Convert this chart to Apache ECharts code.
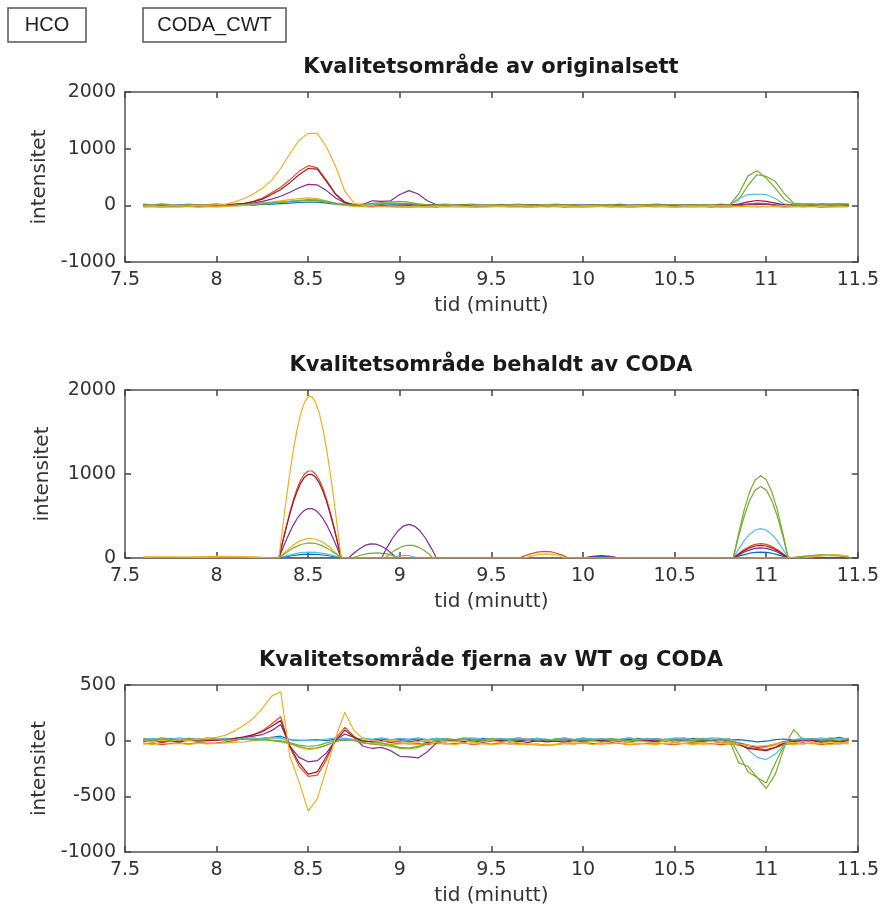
<!DOCTYPE html>
<html><head><meta charset="utf-8">
<script src="https://cdn.jsdelivr.net/npm/echarts/dist/echarts.min.js"></script>
<style>html,body{margin:0;padding:0;background:#fff}#c{width:882px;height:919px}</style>
</head><body><div id="c"></div>
<script>
// ---------- DATA ----------
const xTicks = [7.5, 8, 8.5, 9, 9.5, 10, 10.5, 11, 11.5];
const yTicks1 = [-1000, 0, 1000, 2000];
const yTicks2 = [0, 1000, 2000];
const yTicks3 = [-1000, -500, 0, 500];
const titles = ['Kvalitetsområde av originalsett', 'Kvalitetsområde behaldt av CODA', 'Kvalitetsområde fjerna av WT og CODA'];
const buttons = ['HCO', 'CODA_CWT'];

const tGrid = [7.60,7.65,7.70,7.75,7.80,7.85,7.90,7.95,8.00,8.05,
8.10,8.15,8.20,8.25,8.30,8.35,8.40,8.45,8.50,8.55,
8.60,8.65,8.70,8.75,8.80,8.85,8.90,8.95,9.00,9.05,
9.10,9.15,9.20,9.25,9.30,9.35,9.40,9.45,9.50,9.55,
9.60,9.65,9.70,9.75,9.80,9.85,9.90,9.95,10.00,10.05,
10.10,10.15,10.20,10.25,10.30,10.35,10.40,10.45,10.50,10.55,
10.60,10.65,10.70,10.75,10.80,10.85,10.90,10.95,11.00,11.05,
11.10,11.15,11.20,11.25,11.30,11.35,11.40,11.45];

// Plot 1: original set
const p1Blue = [0,5,-5,0,10,-5,5,0,-5,5, 0,10,5,15,20,30,40,50,55,55, 40,20,5,0,-5,5,0,10,20,25, 15,5,0,-5,5,0,-10,5,0,-5, 5,0,-5,10,0,-5,5,0,5,-5, 0,5,-5,0,10,-5,0,5,-5,0, 5,0,-5,5,0,10,20,30,25,10, 0,5,-5,0,5,-5,10,0];
const p1Orange = [-25,-20,-30,-20,-25,-15,-20,-10,-15,-5, 5,30,70,130,220,320,450,600,700,660, 440,200,60,10,-10,-20,-15,-25,-20,-30, -20,-25,-30,-15,-25,-20,-30,-20,-25,-15, -25,-20,-30,-25,-15,-20,-30,-25,-20,-25, -15,-25,-20,-30,-25,-20,-15,-25,-30,-20, -25,-20,-30,-15,-25,-10,20,40,30,0, -20,-25,-15,-20,-30,-25,-20,-25];
const p1Yellow = [-15,-10,-20,-5,-15,-10,0,5,10,20, 60,120,200,300,440,650,910,1150,1270,1270, 1030,680,250,40,0,-5,-20,-10,-15,-20, -10,-25,-15,-20,-10,-25,-15,-5,-20,-10, -15,-5,-20,-25,-10,-15,-5,-20,-10,-15, -20,-10,-25,-15,-5,-20,-10,-15,-25,-10, -15,-20,-5,-15,-10,-20,-15,-10,-25,-15, -5,-15,-10,-20,-5,-15,-10,-20];
const p1Purple = [5,0,10,-5,5,0,10,5,0,10, 15,25,40,70,110,160,230,310,370,360, 260,130,40,10,20,80,70,80,190,260, 200,80,10,5,0,10,-5,5,0,10, 5,-5,10,0,5,0,10,-5,5,0, 10,0,-5,5,0,10,5,-5,0,5, 0,5,-5,10,0,5,10,20,15,5, 0,5,-5,10,0,5,0,5];
const p1Green = [10,0,15,5,-5,10,0,5,10,0, 5,15,20,25,35,50,65,80,90,85, 60,30,10,5,15,35,50,60,70,55, 25,5,0,10,-5,5,10,0,5,-5, 10,0,5,-5,10,5,0,10,-5,5, 0,10,5,-5,0,10,5,0,10,-5, 5,0,10,-5,5,200,520,610,480,300, 100,20,25,10,30,20,15,25];
const p1LightBlue = [5,10,0,5,15,0,10,5,0,10, 10,15,20,30,40,55,70,80,85,80, 60,30,10,5,0,10,5,0,10,5, 0,10,5,0,10,-5,5,10,0,5, 10,0,5,-5,5,10,0,5,10,0, 5,0,10,5,0,-5,10,0,5,10, 0,5,10,0,5,120,190,200,190,120, 20,10,5,0,10,5,0,10];
const p1DarkRed = [0,-5,5,-10,0,-5,5,0,5,15, 20,35,60,110,190,280,400,540,650,640, 420,190,50,10,0,-5,5,-10,0,5, -5,0,5,-10,0,5,-5,0,-10,5, 0,-5,5,0,-10,0,5,-5,0,5, -5,0,5,-5,0,-10,5,0,-5,0, 5,-5,0,5,0,20,60,85,70,40, 10,0,-5,5,0,-5,5,0];
const p1Yellow2 = [-30,-20,-35,-25,-30,-20,-35,-25,-30,-20, -15,0,20,40,60,80,100,120,130,120, 80,30,0,-20,-25,-30,-20,-25,-35,-30, -25,-35,-20,-30,-25,-20,-35,-30,-25,-20, -30,-25,-35,-20,-30,-25,-20,-30,-35,-25, -20,-30,-25,-35,-20,-25,-30,-20,-35,-25, -30,-20,-25,-35,-30,-20,-25,-30,-20,-25, -35,-20,-30,-25,-20,-30,-25,-20];
const p1Green2 = [20,10,25,15,10,20,5,15,25,10, 20,25,30,40,45,55,70,90,100,95, 70,40,20,10,15,25,30,40,35,30, 20,10,15,20,10,15,20,5,15,10, 15,20,10,5,15,20,10,15,5,10, 15,10,20,5,10,15,20,10,15,5, 10,15,5,20,10,100,350,540,510,420, 200,40,20,30,15,25,30,20];

// Plot 2: kept by CODA ([time, intensity] pairs)
const p2Blue = [[7.6,0],[8.34,0],[8.38,16],[8.42,30],[8.46,40],[8.50,45],[8.54,43],[8.58,36],[8.62,24],[8.66,8],[8.68,0],[10.0,0],[10.05,15],[10.1,20],[10.15,15],[10.2,0],[10.82,0],[10.85,22],[10.88,41],[10.91,57],[10.94,67],[10.97,70],[11.00,67],[11.03,57],[11.06,41],[11.09,22],[11.12,0],[11.45,0]];
const p2Orange = [[7.6,0],[7.9,5],[8.1,0],[8.34,0],[8.36,191],[8.38,375],[8.40,547],[8.42,701],[8.44,830],[8.46,931],[8.48,1000],[8.50,1036],[8.52,1036],[8.54,1000],[8.56,931],[8.58,830],[8.60,701],[8.62,547],[8.64,375],[8.66,191],[8.68,0],[9.65,0],[9.70,40],[9.75,70],[9.79,80],[9.83,72],[9.88,40],[9.92,0],[10.82,0],[10.85,53],[10.88,100],[10.91,138],[10.94,162],[10.97,170],[11.00,162],[11.03,138],[11.06,100],[11.09,53],[11.12,0],[11.45,0]];
const p2Yellow = [[7.6,8],[7.75,12],[7.9,6],[8.05,14],[8.2,8],[8.34,0],[8.36,355],[8.38,697],[8.40,1016],[8.42,1300],[8.44,1540],[8.46,1728],[8.48,1856],[8.50,1922],[8.52,1922],[8.54,1856],[8.56,1728],[8.58,1540],[8.60,1300],[8.62,1016],[8.64,697],[8.66,355],[8.68,0],[9.68,0],[9.74,35],[9.80,50],[9.86,35],[9.90,0],[11.2,0],[11.3,25],[11.38,40],[11.45,20]];
const p2Purple = [[7.6,0],[8.0,5],[8.1,0],[8.34,0],[8.36,109],[8.38,213],[8.40,310],[8.42,398],[8.44,471],[8.46,528],[8.48,568],[8.50,588],[8.52,588],[8.54,568],[8.56,528],[8.58,471],[8.60,398],[8.62,310],[8.64,213],[8.66,109],[8.68,0],[8.72,0],[8.75,60],[8.78,110],[8.81,150],[8.84,168],[8.87,165],[8.90,140],[8.93,100],[8.96,45],[8.98,0],[10.0,0],[10.05,20],[10.1,30],[10.15,20],[10.2,0],[10.82,0],[10.85,37],[10.88,71],[10.91,97],[10.94,114],[10.97,120],[11.00,114],[11.03,97],[11.06,71],[11.09,37],[11.12,0],[11.45,0]];
const p2Green = [[7.6,0],[8.34,0],[8.38,65],[8.42,121],[8.46,161],[8.50,179],[8.54,173],[8.58,144],[8.62,95],[8.66,33],[8.68,0],[8.92,0],[8.95,55],[8.98,100],[9.01,135],[9.04,152],[9.07,150],[9.10,130],[9.13,95],[9.16,45],[9.18,0],[10.82,0],[10.85,303],[10.88,576],[10.91,793],[10.94,932],[10.97,980],[11.00,932],[11.03,793],[11.06,576],[11.09,303],[11.12,0],[11.2,20],[11.3,30],[11.4,25],[11.45,10]];
const p2LightBlue = [[7.6,0],[8.34,0],[8.38,25],[8.42,47],[8.46,63],[8.50,70],[8.54,67],[8.58,56],[8.62,37],[8.66,13],[8.68,0],[8.95,0],[9.0,30],[9.05,30],[9.1,0],[10.82,0],[10.85,108],[10.88,206],[10.91,283],[10.94,333],[10.97,350],[11.00,333],[11.03,283],[11.06,206],[11.09,108],[11.12,0],[11.45,0]];
const p2DarkRed = [[7.6,0],[8.34,0],[8.36,184],[8.38,361],[8.40,526],[8.42,674],[8.44,798],[8.46,895],[8.48,962],[8.50,996],[8.52,996],[8.54,962],[8.56,895],[8.58,798],[8.60,674],[8.62,526],[8.64,361],[8.66,184],[8.68,0],[10.82,0],[10.85,46],[10.88,88],[10.91,121],[10.94,143],[10.97,150],[11.00,143],[11.03,121],[11.06,88],[11.09,46],[11.12,0],[11.45,0]];
const p2Purple2 = [[7.6,0],[8.90,0],[8.93,124],[8.96,235],[8.99,324],[9.02,380],[9.05,400],[9.08,380],[9.11,324],[9.14,235],[9.17,124],[9.20,0],[11.45,0]];
const p2Yellow2 = [[7.6,15],[7.8,10],[8.0,20],[8.2,15],[8.34,0],[8.38,85],[8.42,158],[8.46,210],[8.50,234],[8.54,226],[8.58,188],[8.62,124],[8.66,43],[8.68,0],[11.2,0],[11.3,30],[11.38,40],[11.45,20]];
const p2Green2 = [[7.6,0],[8.74,0],[8.78,30],[8.83,55],[8.88,60],[8.93,50],[8.97,22],[9.00,0],[10.82,0],[10.85,263],[10.88,500],[10.91,688],[10.94,808],[10.97,850],[11.00,808],[11.03,688],[11.06,500],[11.09,263],[11.12,0],[11.3,40],[11.4,30],[11.45,5]];

// Plot 3: removed by WT and CODA
const p3Blue = [0,15,5,20,10,0,15,5,10,20, 5,15,10,20,30,40,10,0,5,10, 0,15,5,10,20,5,15,0,10,5, 15,5,20,10,0,15,5,20,10,0, 15,5,10,20,0,15,10,5,20,10, 0,15,5,10,20,5,0,15,10,5, 20,10,0,15,5,10,0,-10,-5,10, 15,5,20,10,0,15,30,10];
const p3Orange = [-30,-20,-35,-25,-20,-30,-15,-25,-20,-10, 0,30,50,90,150,215,-60,-230,-320,-310, -170,20,120,40,-20,-30,-25,-35,-20,-30, -25,-35,-20,-30,-25,-20,-35,-25,-30,-20, -30,-25,-35,-30,-40,-35,-25,-30,-20,-25, -30,-20,-25,-35,-30,-25,-20,-30,-35,-25, -20,-30,-25,-35,-30,-40,-60,-70,-80,-60, -35,-25,-30,-20,-35,-25,-30,-20];
const p3Yellow = [0,-10,5,-5,10,0,15,20,30,50, 90,140,200,290,400,440,-140,-370,-630,-520, -250,30,255,90,20,0,-10,5,-5,-15, -10,0,-15,-5,-10,5,-20,-10,0,-15, -5,-20,-30,-35,-40,-30,-20,-10,-15,-5, -15,-10,0,-20,-5,-10,-20,0,-15,-5, -10,-20,-5,-15,-10,-30,-40,-50,-45,-30, -10,-20,-5,-15,-25,-10,-20,-15];
const p3Purple = [0,10,-5,5,0,10,5,0,10,15, 20,30,40,55,90,145,-50,-150,-190,-180, -110,5,60,30,-50,-70,-60,-90,-140,-145, -155,-100,-20,0,10,-5,5,0,10,-5, 5,0,10,-5,5,0,-5,10,0,5, -5,5,0,10,-5,0,5,-5,10,0, 5,-5,0,10,-5,-20,-40,-60,-50,-30, -5,5,0,10,-5,5,0,10];
const p3Green = [10,0,15,5,10,20,5,10,15,5, 10,15,5,10,0,-10,-30,-50,-70,-65, -40,-10,10,5,-20,-30,-40,-50,-70,-75, -60,-30,0,10,5,15,0,10,5,15, 0,10,15,5,10,0,15,5,10,0, 15,5,10,0,5,15,10,0,5,10, 0,10,5,15,0,-200,-230,-330,-430,-300, -50,100,10,15,5,10,0,20];
const p3LightBlue = [10,20,5,15,25,10,20,15,5,20, 15,25,10,20,30,20,10,5,0,5, 15,25,20,10,20,15,25,10,20,15, 25,10,20,15,5,20,25,15,10,20, 15,25,10,20,15,5,20,10,25,15, 20,10,15,25,5,20,15,10,25,20, 10,15,25,20,10,-20,-80,-150,-170,-120, -40,10,20,15,25,10,20,15];
const p3DarkRed = [-10,0,-15,-5,-10,5,-5,0,5,10, 20,35,55,80,130,180,-50,-200,-300,-280, -140,0,95,30,-5,-10,0,-15,-5,-10, 0,-15,-5,-10,5,-10,0,-15,-5,0, -10,-5,-15,0,-10,-5,-15,0,-10,-5, 0,-10,-5,-15,0,-5,-10,0,-15,-5, -10,0,-5,-15,-10,-30,-70,-80,-90,-60, -20,-5,-10,0,-15,-5,-10,0];
const p3Yellow2 = [-25,-35,-20,-30,-25,-35,-20,-30,-25,-20, -15,-10,0,10,20,30,-20,-60,-80,-70, -40,-10,20,0,-20,-30,-25,-35,-30,-25, -35,-20,-30,-25,-35,-20,-30,-25,-35,-30, -25,-35,-30,-40,-45,-35,-25,-30,-20,-35, -25,-30,-20,-35,-25,-30,-35,-20,-30,-25, -35,-25,-30,-20,-35,-30,-45,-55,-60,-40, -25,-35,-20,-30,-25,-35,-20,-30];
const p3Green2 = [20,10,25,15,5,20,10,25,15,10, 20,15,25,10,5,0,-20,-40,-50,-45, -20,5,15,10,0,-10,-20,-40,-60,-65, -50,-20,10,20,10,25,15,5,20,10, 15,25,10,20,5,15,25,10,20,15, 5,20,10,25,15,10,20,5,15,25, 10,20,15,5,20,-120,-280,-330,-380,-200, -30,0,15,20,10,25,15,20];

// ---------- CHART ----------
const C = {blue:'#0072BD', orange:'#D95319', yellow:'#EDB120', purple:'#7E2F8E', green:'#77AC30', lightblue:'#4DBEEE', darkred:'#A2142F'};
const FONT = 'DejaVu Sans';
const plots = [
  {top: 92, height: 170, yt: yTicks1, series: [
    [p1Blue,C.blue],[p1Orange,C.orange],[p1Yellow2,C.yellow],[p1Purple,C.purple],[p1Green2,C.green],[p1LightBlue,C.lightblue],[p1DarkRed,C.darkred],[p1Green,C.green],[p1Yellow,C.yellow]], grid: true},
  {top: 390, height: 168, yt: yTicks2, series: [
    [p2Blue,C.blue],[p2Orange,C.orange],[p2Yellow2,C.yellow],[p2Purple,C.purple],[p2Green2,C.green],[p2LightBlue,C.lightblue],[p2DarkRed,C.darkred],[p2Purple2,C.purple],[p2Green,C.green],[p2Yellow,C.yellow]], grid: false},
  {top: 685, height: 167, yt: yTicks3, series: [
    [p3Blue,C.blue],[p3Orange,C.orange],[p3Yellow2,C.yellow],[p3Purple,C.purple],[p3Green2,C.green],[p3LightBlue,C.lightblue],[p3DarkRed,C.darkred],[p3Green,C.green],[p3Yellow,C.yellow]], grid: true}
];
const AX = '#7d7d7d', TXT = '#333';
const numFmt = v => String(v);
const option = {animation:false, backgroundColor:'#fff', grid:[], xAxis:[], yAxis:[], series:[], title:[], graphic:[]};
plots.forEach((p, i) => {
  option.grid.push({left:125, right:24, top:p.top, height:p.height, show:false});
  const common = {gridIndex:i, type:'value', min:xTicks[0], max:xTicks[xTicks.length-1], interval:xTicks[1]-xTicks[0],
    splitLine:{show:false}, axisLine:{show:true, onZero:false, lineStyle:{color:AX, width:2}},
    axisTick:{show:true, inside:true, length:6, lineStyle:{color:'#444', width:1.5}}};
  option.xAxis.push(Object.assign({}, common, {position:'bottom',
    axisLabel:{fontSize:19, color:TXT, margin:9, fontFamily:FONT, formatter:numFmt},
    name:'tid (minutt)', nameLocation:'middle', nameGap:34, nameTextStyle:{fontSize:20, color:TXT, fontFamily:FONT}}));
  option.xAxis.push(Object.assign({}, common, {position:'top', axisLabel:{show:false}}));
  const yc = {gridIndex:i, type:'value', min:p.yt[0], max:p.yt[p.yt.length-1], interval:p.yt[1]-p.yt[0],
    splitLine:{show:false}, axisLine:{show:true, onZero:false, lineStyle:{color:AX, width:2}},
    axisTick:{show:true, inside:true, length:6, lineStyle:{color:'#444', width:1.5}}};
  option.yAxis.push(Object.assign({}, yc, {position:'left',
    axisLabel:{fontSize:19, color:TXT, margin:9, fontFamily:FONT, formatter:numFmt},
    name:'intensitet', nameLocation:'middle', nameRotate:90, nameGap:72, nameTextStyle:{fontSize:20, color:TXT, fontFamily:FONT}}));
  option.yAxis.push(Object.assign({}, yc, {position:'right', axisLabel:{show:false}}));
  option.title.push({text:titles[i], left:491, top:p.top - 35, textAlign:'center', padding:0,
    textStyle:{fontSize:21, fontWeight:'bold', color:'#1a1a1a', fontFamily:FONT}});
  p.series.forEach(([d, col]) => {
    option.series.push({type:'line', xAxisIndex:i*2, yAxisIndex:i*2, showSymbol:false, symbol:'none', clip:true,
      data: p.grid ? tGrid.map((t, k) => [t, d[k]]) : d,
      lineStyle:{width:1.2, color:col}, itemStyle:{color:col}, z:2});
  });
});
// header buttons
const btn = [{x:8, w:78}, {x:143, w:143}];
buttons.forEach((b, k) => {
  option.graphic.push({type:'rect', shape:{x:btn[k].x, y:8, width:btn[k].w, height:34}, style:{fill:'#fff', stroke:'#555', lineWidth:1.5}});
  option.graphic.push({type:'text', style:{text:b, x:btn[k].x + btn[k].w/2, y:25, align:'center', verticalAlign:'middle', fontSize:20, fontFamily:'Liberation Sans', fill:'#222'}});
});
const chart = echarts.init(document.getElementById('c'), null, {renderer:'canvas'});
chart.setOption(option);
</script>
</body></html>
